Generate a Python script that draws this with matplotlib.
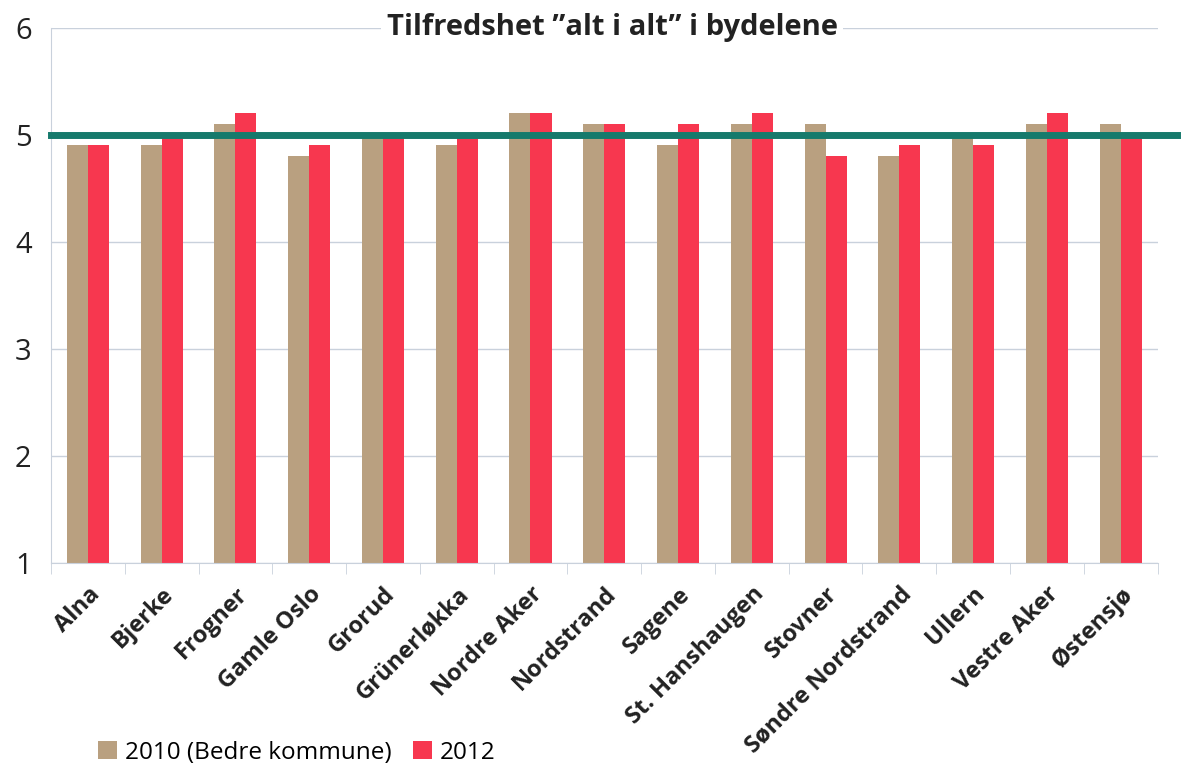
import matplotlib
matplotlib.use('Agg')
from matplotlib import pyplot as plt
import numpy as np

bydeler = ['Alna', 'Bjerke', 'Frogner', 'Gamle Oslo', 'Grorud', 'Grünerløkka',
           'Nordre Aker', 'Nordstrand', 'Sagene', 'St. Hanshaugen', 'Stovner',
           'Søndre Nordstrand', 'Ullern', 'Vestre Aker', 'Østensjø']
verdier_2010 = [4.9, 4.9, 5.1, 4.8, 5.0, 4.9, 5.2, 5.1, 4.9, 5.1, 5.1, 4.8, 5.0, 5.1, 5.1]
verdier_2012 = [4.9, 5.0, 5.2, 4.9, 5.0, 5.0, 5.2, 5.1, 5.1, 5.2, 4.8, 4.9, 4.9, 5.2, 5.0]
snitt = 5.0

plt.rcParams['font.family'] = ['Open Sans', 'DejaVu Sans']

fig = plt.figure(figsize=(11.86, 7.71), dpi=100)
ax = fig.add_axes([0.043, 0.27, 0.933, 0.694])

x = np.arange(len(bydeler))
w = 0.285
ax.bar(x - w / 2, np.array(verdier_2010) - 1, w, bottom=1, color='#b9a080',
       label='2010 (Bedre kommune)', zorder=2)
ax.bar(x + w / 2, np.array(verdier_2012) - 1, w, bottom=1, color='#f7374f',
       label='2012', zorder=2)

# gjennomsnittslinje, går litt utenfor plottet
ax.axhline(snitt, xmin=0.0, xmax=1.018, color='#167a6c', lw=5, zorder=3, clip_on=False)

ax.set_xlim(-0.5, len(bydeler) - 0.5)
ax.set_ylim(1, 6)
ax.set_yticks([1, 2, 3, 4, 5, 6])
ax.grid(axis='y', color='#c9d1dc', lw=1, zorder=0)
ax.set_axisbelow(True)

for s in ['top', 'right']:
    ax.spines[s].set_visible(False)
ax.spines['left'].set_color('#c9d1dc')
ax.spines['bottom'].set_color('#c9d1dc')

ax.set_xticks(x)
ax.set_xticklabels(bydeler, rotation=45, ha='right', rotation_mode='anchor',
                   fontsize=17, fontweight='bold', color='#222222')
ax.set_xticks(np.arange(len(bydeler) + 1) - 0.5, minor=True)
ax.tick_params(axis='x', which='major', length=0, pad=14)
ax.tick_params(axis='x', which='minor', length=8, color='#c9d1dc')
ax.tick_params(axis='y', length=0, labelsize=21, pad=14, labelcolor='#222222')

ax.text(0.507, 1.0, 'Tilfredshet ”alt i alt” i bydelene', transform=ax.transAxes,
        ha='center', va='center', fontsize=21, fontweight='bold', color='#222222',
        bbox=dict(facecolor='white', edgecolor='none', pad=4), zorder=5)

fig.legend(loc='lower left', bbox_to_anchor=(0.064, -0.02), ncol=2, frameon=False,
           fontsize=17.5, handlelength=0.8, handleheight=0.8, handletextpad=0.3,
           columnspacing=0.9)

plt.savefig('out.png', dpi=100)
